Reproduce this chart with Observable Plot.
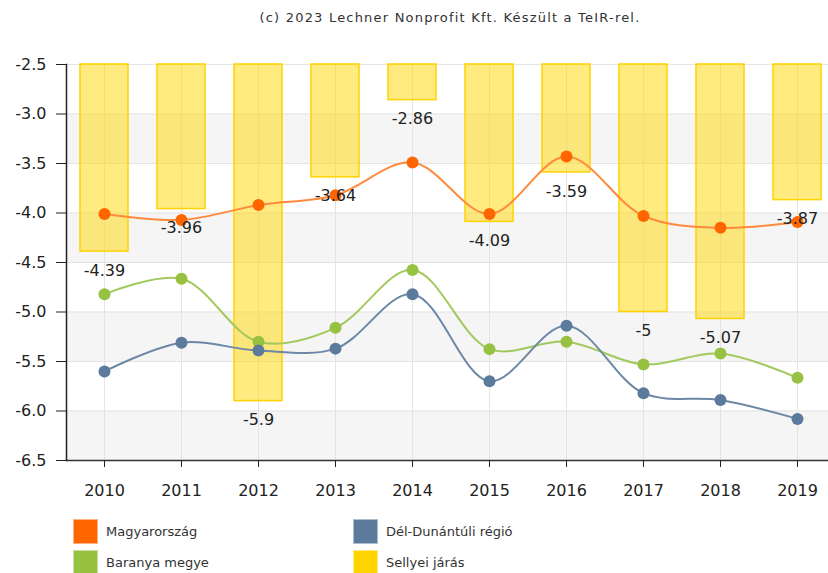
<!DOCTYPE html>
<html><head><meta charset="utf-8">
<script src="https://cdn.jsdelivr.net/npm/d3@7"></script>
<script src="https://cdn.jsdelivr.net/npm/@observablehq/plot@0.6"></script>
<style>
body{margin:0;background:#fff;font-family:"DejaVu Sans",sans-serif;}
#wrap{position:relative;width:828px;height:573px;overflow:hidden;}
#title{position:absolute;left:66px;width:768px;top:10px;text-align:center;font-size:13px;letter-spacing:1.2px;color:#333;font-family:"DejaVu Sans",sans-serif;}
#chart{position:absolute;left:0;top:40px;}
.leg{position:absolute;font-size:13px;color:#333;display:flex;align-items:center;height:25px;}
.sw{width:25px;height:25px;margin-right:8px;box-sizing:border-box;border:1px solid rgba(255,255,255,0.5);}
</style></head>
<body><div id="wrap"><div id="title">(c) 2023 Lechner Nonprofit Kft. Készült a TeIR-rel.</div><div id="chart"></div><div id="legend"></div></div>
<script>
const years = ["2010","2011","2012","2013","2014","2015","2016","2017","2018","2019"];
const magyarorszag = [-4.01,-4.07,-3.92,-3.82,-3.49,-4.01,-3.43,-4.03,-4.15,-4.09];
const delDunantuli = [-5.60,-5.31,-5.39,-5.37,-4.82,-5.70,-5.14,-5.82,-5.89,-6.08];
const baranya = [-4.82,-4.665,-5.30,-5.16,-4.575,-5.375,-5.30,-5.53,-5.42,-5.665];
const sellyei = [-4.39,-3.96,-5.9,-3.64,-2.86,-4.09,-3.59,-5,-5.07,-3.87];
const seriesNames = ["Magyarország","Dél-Dunántúli régió","Baranya megye","Sellyei járás"];
const seriesColors = ["#ff6600","#5c7a9c","#97c140","#ffd400"];
const yTicks = [-6.5,-6,-5.5,-5,-4.5,-4,-3.5,-3,-2.5];
const yDomain = [-6.5,-2.5];

const rows = arr => years.map((y,i)=>({year:y, value:arr[i]}));
const bands = yTicks.slice(0,-1).map((t,i)=>({y1:t,y2:yTicks[i+1],shade:i%2===0})).filter(d=>d.shade);
const barRows = rows(sellyei);

const lineSeries = [
  {data: rows(magyarorszag), color: seriesColors[0], line:"#ff8a3d"},
  {data: rows(delDunantuli), color: seriesColors[1], line:"#6d88a6"},
  {data: rows(baranya), color: seriesColors[2], line:"#a3c95e"}
];

const marks = [
  Plot.rectY(bands, {y1:"y1", y2:"y2", fill:"#f5f5f5"}),
  Plot.gridY({ticks: yTicks, stroke:"#e4e4e4", strokeOpacity:1}),
  Plot.gridX({stroke:"#e4e4e4", strokeOpacity:1}),
  Plot.barY(barRows, {x:"year", y1:()=>yDomain[1], y2:"value", fill:"#ffd700", fillOpacity:0.5, stroke:"#ffd200", strokeWidth:1.5}),
];
for (const s of [lineSeries[2], lineSeries[1], lineSeries[0]]) {
  marks.push(Plot.line(s.data, {x:"year", y:"value", stroke:s.line, strokeWidth:2, curve:"catmull-rom"}));
}
for (const s of [lineSeries[2], lineSeries[1], lineSeries[0]]) {
  marks.push(Plot.dot(s.data, {x:"year", y:"value", fill:s.color, r:6}));
}
marks.push(Plot.text(barRows, {x:"year", y:"value", text:d=>String(d.value), dy:19, fill:"#222", fontSize:16}));
marks.push(Plot.ruleY([yDomain[0]], {stroke:"#333", strokeWidth:1.5}));
marks.push(Plot.frame({anchor:"left", stroke:"#222", strokeWidth:1.5}));
marks.push(Plot.axisY({ticks:yTicks, tickSize:10, tickPadding:10, tickFormat:d=>d.toFixed(1), fontSize:16, color:"#222"}));
marks.push(Plot.axisX({tickSize:7, tickPadding:17, fontSize:16, color:"#222"}));

const plot = Plot.plot({
  width: 828,
  height: 470,
  marginLeft: 66,
  marginRight: 0,
  marginTop: 24,
  marginBottom: 50,
  style: {fontFamily:"DejaVu Sans, sans-serif", fontSize:"16px", background:"transparent", color:"#222"},
  x: {type:"band", domain: years, range:[65,836], paddingInner:0.375, paddingOuter:0.1875, label:null},
  y: {domain: yDomain, label:null},
  marks
});
document.getElementById("chart").appendChild(plot);

const legPos = [[73,519],[353,519],[73,550],[353,550]];
const legOrder = [0,1,2,3];
const leg = document.getElementById("legend");
legOrder.forEach((k,i)=>{
  const d = document.createElement("div");
  d.className = "leg";
  d.style.left = legPos[i][0]+"px";
  d.style.top = legPos[i][1]+"px";
  d.innerHTML = `<div class="sw" style="background:${seriesColors[k]}"></div><span>${seriesNames[k]}</span>`;
  leg.appendChild(d);
});
</script>
</body></html>
